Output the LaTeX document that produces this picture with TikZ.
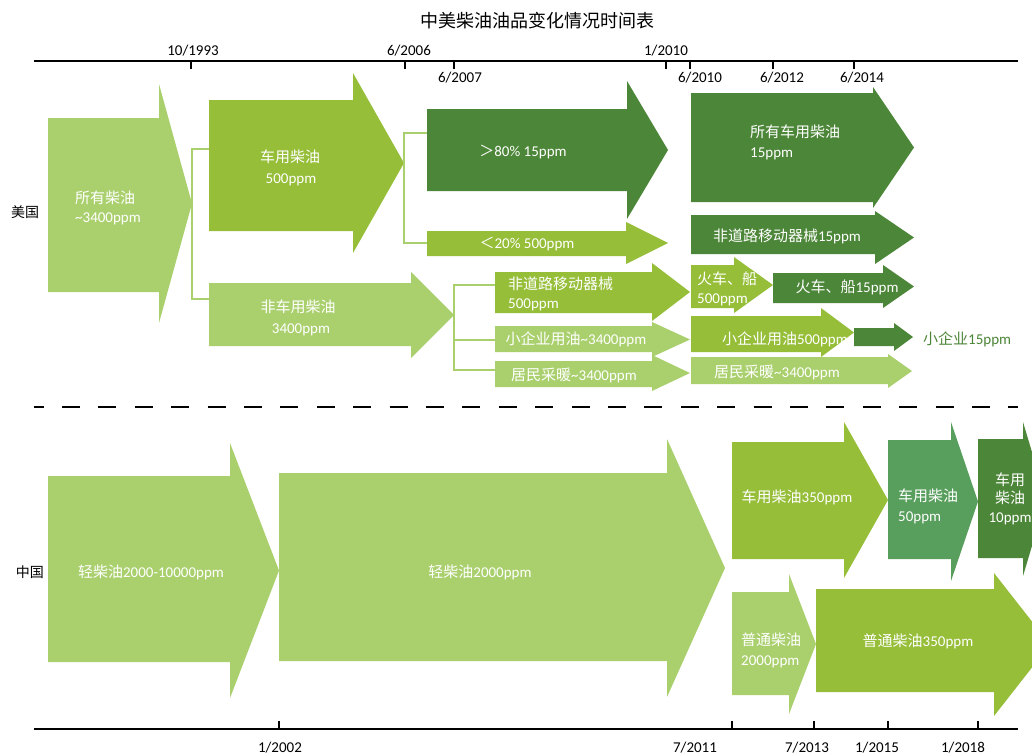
\documentclass[tikz,border=0pt]{standalone}
\usepackage{fontspec}
\setmainfont{Carlito}
\newfontfamily\zh{Noto Sans CJK SC}
\definecolor{cLight}{RGB}{170,208,110}
\definecolor{cMed}{RGB}{150,190,57}
\definecolor{cDark}{RGB}{76,134,56}
\definecolor{cTeal}{RGB}{88,158,92}
\newcommand\zz[1]{{\zh #1}}
\newcommand\farrow[9]{%
  \fill[#2] (#3,#4) -- (#6,#4) -- (#6,#7) -- (#9,{(#7+#8)/2}) -- (#6,#8) -- (#6,#5) -- (#3,#5) -- cycle;
  \coordinate (#1-tip) at (#9,{(#7+#8)/2});
  \coordinate (#1-w) at (#3,{(#4+#5)/2});
}
\tikzset{
  lt/.style={fill=cLight}, md/.style={fill=cMed}, dk/.style={fill=cDark}, tl/.style={fill=cTeal},
  lbl/.style={text=white, inner sep=0pt, text height=12pt, text depth=2pt, font=\fontsize{15}{18}\selectfont},
  axl/.style={text=black, inner sep=0pt, text height=11pt, text depth=1pt, font=\fontsize{15}{18}\selectfont},
  axis/.style={line width=1.4pt, black},
  br/.style={draw=cLight, line width=1.6pt},
  dashln/.style={line width=1.4pt, black, dash pattern=on 18pt off 18.4pt, dash phase=8.4pt}
}
\begin{document}
\begin{tikzpicture}[x=1pt,y=-1pt]
\useasboundingbox (0,0) rectangle (1032,755);
\fill[white] (0,0) rectangle (1032,755);
\clip (0,0) rectangle (1032,755);

% title
\node[inner sep=0pt, font=\fontsize{18}{20}\selectfont\zh] (title) at (537,21) {中美柴油油品变化情况时间表};

% top timeline
\coordinate (ta) at (34,61); \coordinate (tb) at (1018,61);
\draw[axis] (ta) -- (tb);
\foreach \x in {191,405,454,666,690,773,854} \draw[axis] (\x,61) -- (\x,69);
\node[axl] (l1993) at (193,50) {10/1993};
\node[axl] (l2006) at (409,50) {6/2006};
\node[axl] (l2010a) at (666,50) {1/2010};
\node[axl] (l2007) at (460,77) {6/2007};
\node[axl] (l2010b) at (700,77) {6/2010};
\node[axl] (l2012) at (782,77) {6/2012};
\node[axl] (l2014) at (862,77) {6/2014};

% country labels
\node[inner sep=0pt, font=\fontsize{14}{16}\selectfont\zh] (us) at (25,212) {美国};
\node[inner sep=0pt, font=\fontsize{14}{16}\selectfont\zh] (cn) at (30,572) {中国};

% US arrows
\farrow{A1}{lt}{48}{118}{292}{159}{84}{323}{192}
\farrow{A2}{md}{209}{100}{231}{353}{73}{253}{404}
\farrow{A3}{lt}{209}{283}{346}{411}{272}{358}{454}
\coordinate (b1a) at (209,149); \coordinate (b1b) at (209,299);
\draw[br] (b1a) -| (A1-tip) |- (b1b);

\farrow{A4}{dk}{427}{109}{191}{627}{81}{219}{668}
\farrow{A5}{md}{427}{231}{256}{626}{222}{264}{668}
\coordinate (b2a) at (427,133); \coordinate (b2b) at (427,243);
\draw[br] (b2a) -| (A2-tip) |- (b2b);

\farrow{A6}{md}{495}{272}{313}{652}{263}{321}{690}
\farrow{A7}{lt}{495}{326}{352}{652}{322}{357}{690}
\farrow{A8}{lt}{495}{361}{387}{652}{355}{391}{690}
\coordinate (b3a) at (495,285); \coordinate (b3b) at (495,340); \coordinate (b3c) at (495,370);
\draw[br] (b3a) -| (A3-tip) |- (b3c);
\draw[br] (b3b) -- (A3-tip |- b3b);

\farrow{A9}{dk}{691}{93}{202}{873}{87}{208}{914}
\farrow{A10}{dk}{691}{215}{254}{875}{211}{264}{914}
\farrow{A11}{md}{691}{265}{308}{734}{257}{313}{773}
\farrow{A12}{dk}{773}{273}{303}{883}{265}{308}{914}
\farrow{A13}{md}{691}{316}{352}{821}{308}{357}{854}
\farrow{A15}{lt}{691}{357}{384}{888}{354}{388}{912}

% US texts
\node[lbl,anchor=west] (t1a) at (75,198) {\zz{所有柴油}};
\node[lbl,anchor=west] (t1b) at (75,217) {\textasciitilde 3400ppm};
\node[lbl] (t2a) at (290,157) {\zz{车用柴油}};
\node[lbl] (t2b) at (291,178) {500ppm};
\node[lbl] (t3a) at (298,307) {\zz{非车用柴油}};
\node[lbl] (t3b) at (301,328) {3400ppm};
\node[lbl] (t4) at (523,151) {\zz{＞}80\% 15ppm};
\node[lbl] (t5) at (527,243) {\zz{＜}20\% 500ppm};
\node[lbl,anchor=west] (t6a) at (508,284) {\zz{非道路移动器械}};
\node[lbl,anchor=west] (t6b) at (508,303) {500ppm};
\node[lbl] (t7) at (576,339) {\zz{小企业用油}\textasciitilde 3400ppm};
\node[lbl] (t8) at (574,375) {\zz{居民采暖}\textasciitilde 3400ppm};
\node[lbl,anchor=west] (t9a) at (750,132) {\zz{所有车用柴油}};
\node[lbl,anchor=west] (t9b) at (750,152) {15ppm};
\node[lbl] (t10) at (787,236) {\zz{非道路移动器械}15ppm};
\node[lbl,anchor=west] (t11a) at (697,279) {\zz{火车、船}};
\node[lbl,anchor=west] (t11b) at (697,298) {500ppm};
\node[lbl] (t12) at (847,287) {\zz{火车、船}15ppm};
\node[lbl] (t13) at (785,339) {\zz{小企业用油}500ppm};
\node[lbl] (t15) at (777,372) {\zz{居民采暖}\textasciitilde 3400ppm};

\farrow{A14}{dk}{854}{328}{346}{894}{323}{351}{913}
\node[lbl,text=cDark,anchor=west] (t14) at (923,339) {\zz{小企业}15ppm};

% separator
\coordinate (da) at (34,407); \coordinate (db) at (1018,407);
\draw[dashln] (da) -- (db);

% China arrows
\farrow{C1}{lt}{48}{476}{662}{230}{443}{698}{279}
\farrow{C2}{lt}{279}{473}{661}{667}{439}{697}{725}
\farrow{C3}{md}{732}{442}{559}{844}{422}{578}{888}
\farrow{C4}{tl}{888}{440}{559}{951}{422}{581}{978}
\farrow{C5}{dk}{978}{439}{558}{1023}{422}{576}{1046}
\farrow{C6}{lt}{732}{592}{695}{789}{574}{714}{816}
\farrow{C7}{md}{816}{589}{692}{994}{573}{716}{1050}

\node[lbl] (s1) at (151,572) {\zz{轻柴油}2000-10000ppm};
\node[lbl] (s2) at (480,572) {\zz{轻柴油}2000ppm};
\node[lbl] (s3) at (797,497) {\zz{车用柴油}350ppm};
\node[lbl,anchor=west] (s4a) at (898,496) {\zz{车用柴油}};
\node[lbl,anchor=west] (s4b) at (898,516) {50ppm};
\node[lbl] (s5a) at (1010,480) {\zz{车用}};
\node[lbl] (s5b) at (1010,498) {\zz{柴油}};
\node[lbl] (s5c) at (1010,517) {10ppm};
\node[lbl,anchor=west] (s6a) at (741,640) {\zz{普通柴油}};
\node[lbl,anchor=west] (s6b) at (741,660) {2000ppm};
\node[lbl] (s7) at (918,641) {\zz{普通柴油}350ppm};

% bottom timeline
\coordinate (ba) at (34,729); \coordinate (bb) at (1018,729);
\draw[axis] (ba) -- (bb);
\foreach \x in {279,732,814,888,978} \draw[axis] (\x,729) -- (\x,721);
\node[axl] (l2002) at (280,747) {1/2002};
\node[axl] (l2011) at (695,747) {7/2011};
\node[axl] (l2013) at (807,747) {7/2013};
\node[axl] (l2015) at (877,747) {1/2015};
\node[axl] (l2018) at (963,747) {1/2018};
\end{tikzpicture}
\end{document}
